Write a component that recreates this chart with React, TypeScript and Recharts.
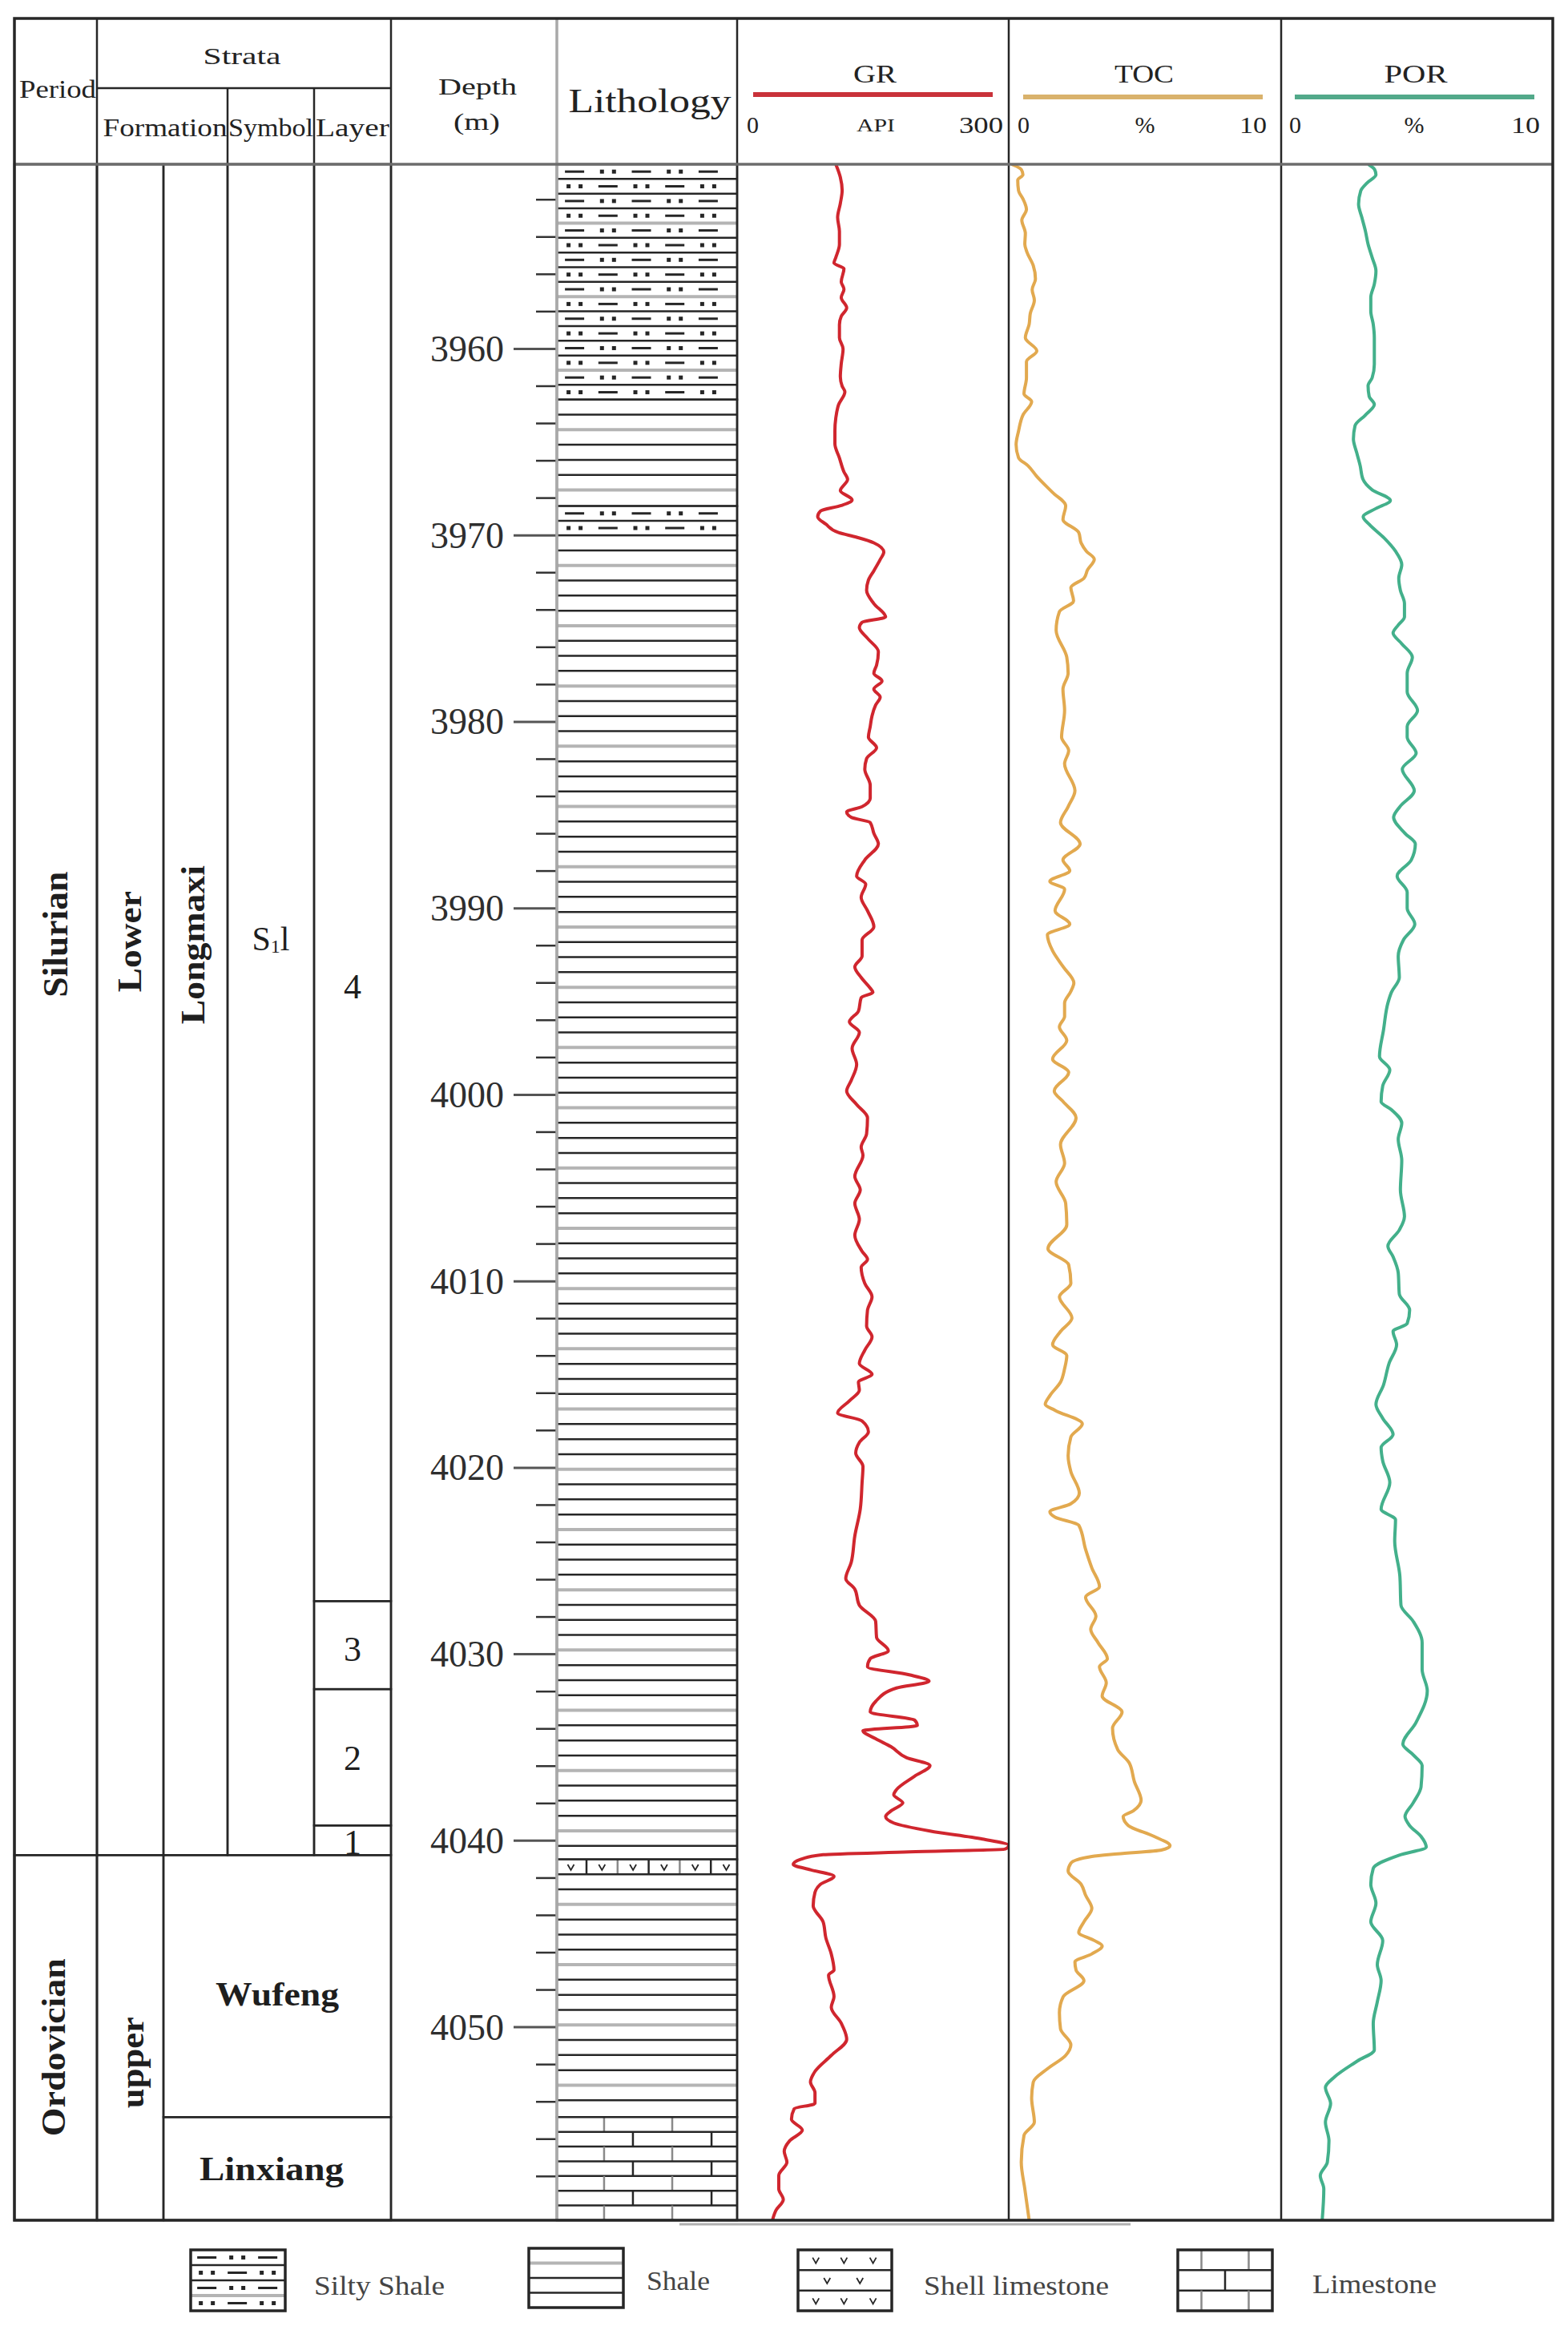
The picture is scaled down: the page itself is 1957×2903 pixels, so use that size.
import React from 'react';
import { ComposedChart, Line, XAxis, YAxis, ReferenceArea } from 'recharts';

const SERIF = "'Liberation Serif', 'Times New Roman', serif";
const INK = '#262626';
const PALE = '#b4b4b4';

const DEPTH_TOP = 3950.1;
const DEPTH_BASE = 4060.35;

// depth axis ticks (every 2 m) and the labelled ones
const depthTicks = [
  3952, 3954, 3956, 3958, 3960, 3962, 3964, 3966, 3968, 3970, 3972, 3974, 3976, 3978,
  3980, 3982, 3984, 3986, 3988, 3990, 3992, 3994, 3996, 3998, 4000, 4002, 4004, 4006,
  4008, 4010, 4012, 4014, 4016, 4018, 4020, 4022, 4024, 4026, 4028, 4030, 4032, 4034,
  4036, 4038, 4040, 4042, 4044, 4046, 4048, 4050, 4052, 4054, 4056, 4058,
];
const depthLabels = [3960, 3970, 3980, 3990, 4000, 4010, 4020, 4030, 4040, 4050];

// strata columns
const periods = [
  { name: 'Silurian', top: DEPTH_TOP, base: 4040.77 },
  { name: 'Ordovician', top: 4040.77, base: DEPTH_BASE },
];
const seriesUnits = [
  { name: 'Lower', top: DEPTH_TOP, base: 4040.77 },
  { name: 'upper', top: 4040.77, base: DEPTH_BASE },
];
const longmaxi = [{ name: 'Longmaxi', top: DEPTH_TOP, base: 4040.77 }];
const ordFormations = [
  { name: 'Wufeng', top: 4040.77, base: 4054.82 },
  { name: 'Linxiang', top: 4054.82, base: DEPTH_BASE },
];
const symbols = [{ name: 'S', sub: '1', tail: 'l', top: DEPTH_TOP, base: 4040.77 }];
const layers = [
  { name: '4', top: DEPTH_TOP, base: 4027.15 },
  { name: '3', top: 4027.15, base: 4031.87 },
  { name: '2', top: 4031.87, base: 4039.18 },
  { name: '1', top: 4039.18, base: 4040.77 },
];

const lithology = [
  { kind: 'silty', top: DEPTH_TOP, base: 3962.72 },
  { kind: 'shale', top: 3962.72, base: 3968.43 },
  { kind: 'silty', top: 3968.43, base: 3970.0 },
  { kind: 'shale', top: 3970.0, base: 4041.0 },
  { kind: 'shell', top: 4041.0, base: 4041.8 },
  { kind: 'shale', top: 4041.8, base: 4054.82 },
  { kind: 'lime', top: 4054.82, base: DEPTH_BASE },
];

// [depth m, GR API]
const grLog = [
  [3950.1, 109], [3950.8, 114], [3951.5, 116], [3952.2, 114], [3952.95, 111], [3953.7, 113],
  [3954.4, 113], [3955.1, 109], [3955.4, 107], [3955.7, 118], [3956.4, 115], [3956.8, 118],
  [3957.25, 115], [3957.8, 121], [3958.25, 115], [3958.7, 113], [3959.4, 113], [3960.0, 117],
  [3960.8, 115], [3961.5, 114], [3962.0, 116], [3962.3, 119], [3963.0, 112], [3963.7, 109],
  [3964.4, 108], [3965.1, 108], [3965.85, 113], [3966.6, 118], [3967.0, 122], [3967.6, 114],
  [3968.1, 127], [3968.4, 115], [3968.7, 92], [3969.0, 89], [3969.4, 98], [3969.85, 112],
  [3970.1, 132], [3970.4, 151], [3970.9, 162], [3971.3, 158], [3971.9, 151], [3972.4, 145],
  [3972.95, 143], [3973.66, 151], [3974.38, 164], [3974.66, 138], [3974.95, 135], [3975.52, 144],
  [3976.24, 156], [3976.96, 154], [3977.39, 151], [3977.81, 160], [3978.24, 151], [3978.67, 158],
  [3979.1, 153], [3979.68, 149], [3980.25, 147], [3980.82, 145], [3981.39, 154], [3981.97, 143],
  [3982.54, 141], [3983.4, 147], [3984.1, 147], [3984.55, 138], [3984.83, 121], [3985.12, 126],
  [3985.4, 147], [3985.98, 151], [3986.55, 156], [3987.41, 141], [3988.27, 132], [3988.7, 142],
  [3989.41, 137], [3990.13, 144], [3990.99, 151], [3991.7, 138], [3992.56, 138], [3993.14, 130],
  [3993.71, 137], [3994.28, 147], [3994.5, 150], [3994.79, 137], [3995.51, 134], [3996.08, 124],
  [3996.65, 135], [3997.51, 127], [3998.37, 132], [3999.23, 126], [3999.8, 121], [4000.52, 132],
  [4001.23, 144], [4002.09, 143], [4002.81, 137], [4003.24, 139], [4004.38, 130], [4005.1, 136],
  [4005.82, 130], [4006.68, 135], [4007.53, 130], [4008.39, 138], [4008.82, 144], [4009.25, 137],
  [4010.11, 141], [4010.83, 149], [4011.54, 144], [4012.4, 143], [4012.98, 149], [4013.69, 141],
  [4014.41, 135], [4014.98, 149], [4015.41, 134], [4015.84, 135], [4016.41, 124], [4017.06, 111],
  [4017.49, 138], [4018.07, 145], [4018.64, 135], [4019.21, 131], [4019.93, 139], [4020.79, 138],
  [4022.22, 136], [4023.65, 130], [4025.08, 126], [4025.94, 120], [4026.51, 130], [4027.37, 135],
  [4028.23, 153], [4029.09, 154], [4029.81, 167], [4030.24, 147], [4030.67, 144], [4031.1, 190],
  [4031.45, 212], [4031.81, 176], [4032.53, 153], [4033.1, 147], [4033.53, 196], [4033.82, 199],
  [4034.1, 139], [4034.53, 153], [4034.96, 170], [4035.54, 187], [4035.97, 213], [4036.54, 196],
  [4037.26, 176], [4037.54, 173], [4037.97, 183], [4038.4, 170], [4038.7, 164], [4039.05, 173],
  [4039.48, 213], [4039.91, 271], [4040.25, 300], [4040.45, 296], [4040.6, 190], [4040.75, 95],
  [4041.0, 70], [4041.27, 62], [4041.56, 81], [4041.91, 107], [4042.34, 92], [4042.77, 86],
  [4043.49, 84], [4044.35, 95], [4045.21, 98], [4046.07, 104], [4046.93, 107], [4047.21, 101],
  [4048.36, 107], [4048.93, 104], [4049.79, 115], [4050.65, 121], [4051.51, 104], [4052.37, 86],
  [4052.94, 81], [4053.51, 86], [4054.09, 86], [4054.37, 63], [4054.94, 60], [4055.52, 72],
  [4056.09, 58], [4056.66, 52], [4057.24, 55], [4057.95, 46], [4058.67, 46], [4059.24, 51],
  [4059.81, 43], [4060.35, 39],
];

// [depth m, TOC %]
const tocLog = [
  [3950.1, 0.1], [3950.38, 0.46], [3950.66, 0.52], [3950.95, 0.33], [3951.52, 0.36], [3951.95, 0.52],
  [3952.52, 0.65], [3953.1, 0.48], [3953.81, 0.61], [3954.39, 0.59], [3954.82, 0.67], [3955.53, 0.9],
  [3956.25, 0.98], [3956.82, 0.86], [3957.39, 0.94], [3958.11, 0.79], [3958.68, 0.75], [3959.4, 0.61],
  [3960.11, 1.03], [3960.69, 0.65], [3961.55, 0.65], [3962.41, 0.56], [3962.83, 0.84], [3963.55, 0.52],
  [3964.41, 0.36], [3965.13, 0.27], [3965.84, 0.36], [3966.27, 0.71], [3966.84, 1.03], [3967.7, 1.61],
  [3968.42, 2.09], [3969.14, 1.99], [3969.85, 2.57], [3970.42, 2.66], [3970.85, 2.85], [3971.28, 3.14],
  [3971.86, 2.89], [3972.3, 2.76], [3972.8, 2.28], [3973.52, 2.38], [3974.09, 1.86], [3975.09, 1.74],
  [3976.53, 2.13], [3977.39, 2.18], [3978.24, 1.99], [3979.39, 2.05], [3980.82, 1.94], [3981.54, 2.2],
  [3982.25, 2.05], [3983.69, 2.43], [3984.55, 2.18], [3985.4, 1.9], [3986.55, 2.62], [3987.41, 1.99],
  [3987.98, 2.24], [3988.55, 1.51], [3988.98, 2.05], [3990.13, 1.7], [3990.85, 2.24], [3991.42, 1.42],
  [3992.28, 1.61], [3993.14, 2.0], [3994.0, 2.39], [3994.45, 2.28], [3995.08, 2.05], [3995.79, 2.05],
  [3996.36, 1.86], [3997.08, 2.13], [3998.08, 1.61], [3998.8, 2.2], [3999.8, 1.67], [4000.37, 2.0],
  [4001.23, 2.47], [4002.67, 1.9], [4003.67, 2.05], [4004.67, 1.74], [4005.82, 2.09], [4006.96, 2.13],
  [4008.25, 1.44], [4009.11, 2.2], [4010.11, 2.28], [4010.83, 1.86], [4011.97, 2.32], [4012.69, 1.9],
  [4013.4, 1.61], [4013.98, 2.13], [4014.69, 2.05], [4015.41, 1.9], [4016.13, 1.51], [4016.6, 1.34],
  [4016.92, 1.7], [4017.64, 2.7], [4018.35, 2.28], [4019.35, 2.18], [4020.21, 2.28], [4021.36, 2.59],
  [4021.93, 2.28], [4022.36, 1.51], [4022.65, 1.7], [4023.08, 2.57], [4024.37, 2.82], [4025.37, 3.05],
  [4026.37, 3.33], [4026.94, 2.82], [4027.95, 3.2], [4028.66, 3.01], [4029.38, 3.28], [4030.24, 3.62],
  [4030.67, 3.33], [4031.53, 3.58], [4032.24, 3.43], [4033.1, 4.16], [4033.96, 3.81], [4035.11, 4.0],
  [4035.82, 4.42], [4036.82, 4.61], [4037.83, 4.86], [4038.4, 4.57], [4038.7, 4.2], [4039.19, 4.39],
  [4039.77, 5.34], [4040.27, 5.92], [4040.5, 5.6], [4040.7, 4.0], [4040.84, 3.05], [4041.2, 2.28],
  [4041.63, 2.18], [4042.34, 2.66], [4042.92, 2.82], [4043.63, 3.05], [4044.35, 2.76], [4044.92, 2.57],
  [4045.35, 3.14], [4045.64, 3.43], [4046.07, 3.05], [4046.5, 2.43], [4046.93, 2.47], [4047.5, 2.76],
  [4048.36, 2.0], [4049.22, 1.86], [4050.08, 1.9], [4050.94, 2.28], [4051.51, 2.09], [4052.23, 1.42],
  [4052.94, 0.9], [4053.8, 0.84], [4055.09, 0.94], [4055.8, 0.56], [4057.24, 0.46], [4058.67, 0.59],
  [4060.35, 0.75],
];

// [depth m, POR %]
const porLog = [
  [3950.1, 3.21], [3950.38, 3.44], [3950.66, 3.49], [3951.09, 3.17], [3951.52, 2.93], [3952.24, 2.85],
  [3952.95, 2.97], [3953.67, 3.1], [3954.39, 3.2], [3955.1, 3.35], [3955.82, 3.49], [3956.53, 3.43],
  [3957.25, 3.3], [3957.97, 3.3], [3958.68, 3.39], [3959.4, 3.43], [3960.11, 3.43], [3960.83, 3.43],
  [3961.55, 3.35], [3961.98, 3.2], [3962.55, 3.24], [3962.98, 3.43], [3963.55, 3.1], [3964.12, 2.72],
  [3964.84, 2.66], [3965.56, 2.78], [3966.27, 2.91], [3966.99, 3.01], [3967.56, 3.35], [3968.13, 4.02],
  [3968.56, 3.49], [3969.0, 3.02], [3969.42, 3.25], [3970.14, 3.79], [3970.85, 4.21], [3971.57, 4.44],
  [3972.3, 4.33], [3972.95, 4.39], [3973.66, 4.54], [3974.38, 4.54], [3974.81, 4.31], [3975.24, 4.12],
  [3975.81, 4.44], [3976.53, 4.83], [3977.39, 4.64], [3978.39, 4.64], [3979.39, 5.02], [3980.25, 4.64],
  [3980.82, 4.64], [3981.68, 4.97], [3982.54, 4.46], [3983.69, 4.9], [3984.55, 4.37], [3985.12, 4.14],
  [3985.98, 4.56], [3986.55, 4.94], [3987.41, 4.79], [3988.27, 4.27], [3989.13, 4.64], [3989.99, 4.64],
  [3990.85, 4.92], [3991.7, 4.5], [3992.56, 4.31], [3993.71, 4.35], [3994.5, 4.06], [3995.08, 3.93],
  [3996.51, 3.77], [3997.94, 3.62], [3998.66, 4.0], [3999.52, 3.74], [4000.37, 3.68], [4000.8, 4.06],
  [4001.52, 4.44], [4002.38, 4.31], [4003.52, 4.44], [4005.1, 4.39], [4006.53, 4.54], [4007.25, 4.35],
  [4008.11, 3.93], [4008.68, 4.12], [4009.54, 4.31], [4010.68, 4.35], [4011.54, 4.73], [4012.26, 4.64],
  [4012.69, 4.12], [4013.4, 4.25], [4014.41, 3.97], [4015.55, 3.77], [4016.6, 3.49], [4017.35, 3.74],
  [4018.21, 4.12], [4018.92, 3.68], [4019.64, 3.74], [4020.79, 4.0], [4022.22, 3.68], [4022.79, 4.21],
  [4023.94, 4.18], [4025.8, 4.37], [4027.37, 4.41], [4028.23, 4.86], [4029.38, 5.19], [4030.81, 5.19],
  [4031.96, 5.38], [4033.67, 4.96], [4034.82, 4.48], [4035.39, 4.86], [4035.97, 5.19], [4037.11, 5.15],
  [4037.97, 4.86], [4038.7, 4.56], [4039.19, 4.73], [4039.77, 5.15], [4040.34, 5.34], [4040.77, 4.35],
  [4041.48, 3.39], [4042.34, 3.3], [4043.35, 3.49], [4044.35, 3.3], [4045.35, 3.74], [4046.64, 3.54],
  [4047.5, 3.68], [4048.64, 3.54], [4049.79, 3.39], [4051.22, 3.43], [4051.8, 2.82], [4052.66, 1.97],
  [4053.23, 1.63], [4054.09, 1.82], [4055.09, 1.63], [4056.09, 1.76], [4057.24, 1.7], [4057.95, 1.44],
  [4058.67, 1.57], [4060.35, 1.51],
];

const toRows = (log: number[][], key: string) => log.map(([depth, v]) => ({ depth, [key]: v }));
// boundary rows so that the depth scale has data to work on
const boundaryRows = (items: any[]) =>
  items.flatMap((it) => [{ depth: it.top, pos: 0.5 }, { depth: it.base, pos: 0.5 }]);

const BODY_TOP = 205;
const BODY_H = 2566;
const NO_MARGIN = { top: 0, right: 0, bottom: 0, left: 0 };

const unitStyle: any = {
  Silurian: { size: 44, len: 157, rotate: true, bold: true, dy: -94 },
  Lower: { size: 42, len: 126, rotate: true, bold: true, dy: -85 },
  Longmaxi: { size: 42, len: 198, rotate: true, bold: true, dx: -3, dy: -81 },
  S: { size: 42, dy: -88 },
  '4': { size: 44, dy: 130 },
  '3': { size: 44, dy: 5 },
  '2': { size: 44, dy: 1 },
  '1': { size: 44, dy: 3 },
  Ordovician: { size: 42, len: 222, rotate: true, bold: true, dx: -2, dy: 12 },
  upper: { size: 42, len: 114, rotate: true, bold: true, dx: 3, dy: 31 },
  Wufeng: { size: 42, len: 154, bold: true, dy: 10 },
  Linxiang: { size: 42, len: 180, bold: true, dx: -7 },
};

function UnitCell(props: any) {
  const { x, y, width, height, unit } = props;
  const st = unitStyle[unit.name] || { size: 40 };
  const cx = x + width / 2 + (st.dx || 0);
  const cy = y + height / 2 + (st.dy || 0);
  return (
    <g>
      <rect x={x} y={y} width={width} height={height} fill="none" stroke={INK} strokeWidth={2.5} />
      <text
        x={cx}
        y={cy}
        transform={st.rotate ? `rotate(-90 ${cx} ${cy})` : undefined}
        textAnchor="middle"
        dominantBaseline="central"
        fontFamily={SERIF}
        fontSize={st.size}
        fontWeight={st.bold ? 700 : 400}
        fill="#1e1e1e"
        textLength={st.len}
        lengthAdjust={st.len ? 'spacingAndGlyphs' : undefined}
      >
        {unit.name}
        {unit.sub && <tspan fontSize={24} dy={9}>{unit.sub}</tspan>}
        {unit.tail && <tspan dy={-9}>{unit.tail}</tspan>}
      </text>
    </g>
  );
}

function StrataColumn({ left, width, units }: any) {
  return (
    <div style={{ position: 'absolute', left, top: BODY_TOP }}>
      <ComposedChart width={width} height={BODY_H} layout="vertical" data={boundaryRows(units)} margin={NO_MARGIN}>
        <XAxis type="number" domain={[0, 1]} allowDataOverflow hide />
        <YAxis type="number" dataKey="depth" domain={[DEPTH_TOP, DEPTH_BASE]} allowDataOverflow hide />
        <Line dataKey="pos" stroke="none" dot={false} activeDot={false} isAnimationActive={false} />
        {units.map((u: any) => (
          <ReferenceArea
            key={u.name}
            x1={0}
            x2={1}
            y1={u.top}
            y2={u.base}
            ifOverflow="visible"
            shape={(p: any) => <UnitCell {...p} unit={u} />}
          />
        ))}
      </ComposedChart>
    </div>
  );
}

function Vee({ cx, cy }: any) {
  return (
    <polyline
      points={`${cx - 4},${cy - 3} ${cx},${cy + 4} ${cx + 4},${cy - 3}`}
      fill="none"
      stroke={INK}
      strokeWidth={1.8}
    />
  );
}

// lithology fill, drawn inside the rect that the depth scale gives
function Lith(props: any) {
  const { x, y, width, height, kind, legend } = props;
  const parts: any[] = [];
  if (kind === 'shale') {
    const step = legend ? height / 4 : 18.8;
    let k = 1;
    for (let yy = y + step; yy < y + height - 4; yy += step, k++) {
      const grey = (k + (legend ? 1 : 0)) % 4 === 2;
      parts.push(
        <line key={'h' + k} x1={x} x2={x + width} y1={yy} y2={yy} stroke={grey ? PALE : INK} strokeWidth={grey ? 4 : 2.5} />
      );
    }
  }
  if (kind === 'silty') {
    const rows = Math.max(1, Math.round(height / (legend ? 19 : 18.4)));
    const rh = height / rows;
    const gw = legend ? 38 : 41.7;
    const n = legend ? 3 : 5;
    for (let r = 0; r < rows; r++) {
      const ry = y + r * rh;
      if (r > 0) {
        const grey = r % 5 === 4 || (legend && r === 3);
        parts.push(
          <line key={'r' + r} x1={x} x2={x + width} y1={ry} y2={ry} stroke={grey ? PALE : INK} strokeWidth={grey ? 4 : 2.5} />
        );
      }
      const cy = ry + rh / 2;
      for (let g = 0; g < n; g++) {
        const gx = x + gw * 0.53 + g * gw;
        if ((g + r) % 2 === 0) {
          const grey = (g + r * 3) % 4 === 1;
          parts.push(
            <line key={`d${r}-${g}`} x1={gx - 12} x2={gx + 12} y1={cy} y2={cy} stroke={grey ? PALE : INK} strokeWidth={3} />
          );
        } else {
          parts.push(<rect key={`a${r}-${g}`} x={gx - 10} y={cy - 2.5} width={5} height={5} fill={INK} />);
          parts.push(<rect key={`b${r}-${g}`} x={gx + 5} y={cy - 2.5} width={5} height={5} fill={INK} />);
        }
      }
    }
  }
  if (kind === 'lime') {
    const rows = Math.max(1, Math.round(height / (legend ? 25 : 18.5)));
    const rh = height / rows;
    const jointsA = legend ? [0.25, 0.75] : [0.262, 0.64];
    const jointsB = legend ? [0.5] : [0.422, 0.858];
    for (let r = 0; r < rows; r++) {
      const ry = y + r * rh;
      if (r > 0) {
        parts.push(<line key={'r' + r} x1={x} x2={x + width} y1={ry} y2={ry} stroke={INK} strokeWidth={2.5} />);
      }
      (r % 2 === 0 ? jointsA : jointsB).forEach((f, j) =>
        parts.push(
          <line key={`j${r}-${j}`} x1={x + f * width} x2={x + f * width} y1={ry} y2={ry + rh} stroke={r % 2 ? INK : '#8a8a8a'} strokeWidth={2.5} />
        )
      );
    }
  }
  if (kind === 'shell') {
    if (legend) {
      const rh = height / 3;
      for (let r = 0; r < 3; r++) {
        const ry = y + r * rh;
        if (r > 0) parts.push(<line key={'r' + r} x1={x} x2={x + width} y1={ry} y2={ry} stroke={INK} strokeWidth={2.5} />);
        const fr = r % 2 === 0 ? [0.19, 0.49, 0.8] : [0.31, 0.66];
        fr.forEach((f, j) => parts.push(<Vee key={`v${r}-${j}`} cx={x + f * width} cy={ry + rh / 2} />));
      }
    } else {
      const cw = 38.8;
      for (let k = 0; k * cw + 17.5 < width; k++) {
        parts.push(<Vee key={'v' + k} cx={x + 17.5 + k * cw} cy={y + height / 2} />);
        const vx = x + 37 + k * cw;
        if (vx < x + width - 8) {
          parts.push(<line key={'s' + k} x1={vx} x2={vx} y1={y} y2={y + height} stroke={k % 2 ? '#8a8a8a' : INK} strokeWidth={2.5} />);
        }
      }
    }
  }
  return (
    <g>
      <rect x={x} y={y} width={width} height={height} fill="#fff" stroke="none" />
      {parts}
      <rect x={x} y={y} width={width} height={height} fill="none" stroke={INK} strokeWidth={legend ? 3.5 : 2.5} />
    </g>
  );
}

function DepthTick(props: any) {
  const { x, y, payload } = props;
  const v = payload.value;
  const major = depthLabels.includes(v);
  return (
    <g>
      <line x1={x - (major ? 54 : 26)} x2={x} y1={y} y2={y} stroke={major ? '#555' : '#333'} strokeWidth={major ? 3 : 2.5} />
      {major && (
        <text x={x - 66} y={y} textAnchor="end" dominantBaseline="central" fontFamily={SERIF} fontSize={46} fill="#2e2e2e">
          {v}
        </text>
      )}
    </g>
  );
}

function DepthLithology() {
  return (
    <div style={{ position: 'absolute', left: 488, top: BODY_TOP }}>
      <ComposedChart width={432} height={BODY_H} layout="vertical" data={boundaryRows(lithology)} margin={NO_MARGIN}>
        <XAxis type="number" domain={[0, 1]} allowDataOverflow hide />
        <YAxis
          type="number"
          dataKey="depth"
          orientation="left"
          width={207}
          domain={[DEPTH_TOP, DEPTH_BASE]}
          allowDataOverflow
          ticks={depthTicks}
          interval={0}
          tick={(p: any) => <DepthTick {...p} />}
          tickLine={false}
          axisLine={false}
          tickSize={0}
          tickMargin={0}
        />
        <Line dataKey="pos" stroke="none" dot={false} activeDot={false} isAnimationActive={false} />
        {lithology.map((iv, i) => (
          <ReferenceArea
            key={i}
            x1={0}
            x2={1}
            y1={iv.top}
            y2={iv.base}
            ifOverflow="visible"
            shape={(p: any) => <Lith {...p} kind={iv.kind} />}
          />
        ))}
      </ComposedChart>
    </div>
  );
}

function Track({ left, width, data, dataKey, max, color }: any) {
  return (
    <div style={{ position: 'absolute', left, top: BODY_TOP }}>
      <ComposedChart width={width} height={BODY_H} layout="vertical" data={data} margin={NO_MARGIN}>
        <XAxis type="number" domain={[0, max]} allowDataOverflow hide />
        <YAxis type="number" dataKey="depth" domain={[DEPTH_TOP, DEPTH_BASE]} allowDataOverflow hide />
        <Line
          dataKey={dataKey}
          type="monotone"
          stroke={color}
          strokeWidth={4}
          dot={false}
          activeDot={false}
          isAnimationActive={false}
        />
      </ComposedChart>
    </div>
  );
}

function T({ x, y, children, size = 32, anchor = 'middle', len, fill = '#222', weight = 400 }: any) {
  return (
    <text
      x={x}
      y={y}
      textAnchor={anchor}
      fontFamily={SERIF}
      fontSize={size}
      fontWeight={weight}
      fill={fill}
      textLength={len}
      lengthAdjust={len ? 'spacingAndGlyphs' : undefined}
    >
      {children}
    </text>
  );
}

function Overlay() {
  const full = [121, 488, 920, 1259, 1599];
  return (
    <svg
      width={1957}
      height={2903}
      style={{ position: 'absolute', left: 0, top: 0, pointerEvents: 'none' }}
    >
      {/* table frame */}
      {full.map((x) => (
        <line key={x} x1={x} x2={x} y1={23} y2={2771} stroke={INK} strokeWidth={2.5} />
      ))}
      <line x1={695} x2={695} y1={23} y2={2771} stroke="#a9a9a9" strokeWidth={3.5} />
      <line x1={121} x2={488} y1={110} y2={110} stroke={INK} strokeWidth={2.5} />
      <line x1={284} x2={284} y1={110} y2={205} stroke={INK} strokeWidth={2.5} />
      <line x1={392} x2={392} y1={110} y2={205} stroke={INK} strokeWidth={2.5} />
      <line x1={18} x2={1938} y1={205} y2={205} stroke="#6c6c6c" strokeWidth={3.5} />
      <rect x={18} y={23} width={1920} height={2748} fill="none" stroke={INK} strokeWidth={3.5} />
      <line x1={848} x2={1411} y1={2776} y2={2776} stroke="#b0b0b0" strokeWidth={3} />

      {/* header */}
      <T x={72} y={122} size={32} len={96}>Period</T>
      <T x={302} y={80} size={30} len={97}>Strata</T>
      <T x={206} y={170} size={32} len={155}>Formation</T>
      <T x={338} y={170} size={32} len={106}>Symbol</T>
      <T x={440} y={170} size={32} len={92}>Layer</T>
      <T x={596} y={118} size={30} len={98}>Depth</T>
      <T x={595} y={162} size={30} len={58}>(m)</T>
      <T x={811} y={140} size={42} len={203}>Lithology</T>

      <T x={1092} y={103} size={31} len={54}>GR</T>
      <line x1={940} x2={1239} y1={118} y2={118} stroke="#c9323a" strokeWidth={6} />
      <T x={932} y={166} size={30} anchor="start">0</T>
      <T x={1093} y={164} size={24} len={48}>API</T>
      <T x={1252} y={166} size={30} anchor="end" len={55}>300</T>

      <T x={1428} y={103} size={31} len={74}>TOC</T>
      <line x1={1277} x2={1576} y1={121} y2={121} stroke="#d9b26c" strokeWidth={6} />
      <T x={1270} y={166} size={30} anchor="start">0</T>
      <T x={1429} y={166} size={30}>%</T>
      <T x={1581} y={166} size={30} anchor="end" len={34}>10</T>

      <T x={1767} y={103} size={31} len={79}>POR</T>
      <line x1={1616} x2={1915} y1={121} y2={121} stroke="#52a98a" strokeWidth={6} />
      <T x={1609} y={166} size={30} anchor="start">0</T>
      <T x={1765} y={166} size={30}>%</T>
      <T x={1922} y={166} size={30} anchor="end" len={36}>10</T>

      {/* legend */}
      <Lith x={238} y={2808} width={118} height={76} kind="silty" legend />
      <T x={392} y={2864} size={34} anchor="start" len={163} fill="#444">Silty Shale</T>
      <Lith x={660} y={2806} width={118} height={74} kind="shale" legend />
      <T x={807} y={2858} size={34} anchor="start" len={79} fill="#444">Shale</T>
      <Lith x={996} y={2808} width={117} height={76} kind="shell" legend />
      <T x={1153} y={2864} size={34} anchor="start" len={231} fill="#444">Shell limestone</T>
      <Lith x={1470} y={2808} width={118} height={76} kind="lime" legend />
      <T x={1638} y={2862} size={34} anchor="start" len={155} fill="#444">Limestone</T>
    </svg>
  );
}

export default function App() {
  return (
    <div style={{ position: 'relative', width: 1957, height: 2903, background: '#fff', fontFamily: SERIF }}>
      <style>{'body{margin:0} .recharts-surface{overflow:visible}'}</style>
      <StrataColumn left={18} width={103} units={periods} />
      <StrataColumn left={121} width={83} units={seriesUnits} />
      <StrataColumn left={204} width={80} units={longmaxi} />
      <StrataColumn left={284} width={108} units={symbols} />
      <StrataColumn left={392} width={96} units={layers} />
      <StrataColumn left={204} width={284} units={ordFormations} />
      <DepthLithology />
      <Track left={920} width={339} data={toRows(grLog, 'gr')} dataKey="gr" max={300} color="#d0262e" />
      <Track left={1259} width={340} data={toRows(tocLog, 'toc')} dataKey="toc" max={10} color="#e2a94f" />
      <Track left={1599} width={339} data={toRows(porLog, 'por')} dataKey="por" max={10} color="#43b08b" />
      <Overlay />
    </div>
  );
}
